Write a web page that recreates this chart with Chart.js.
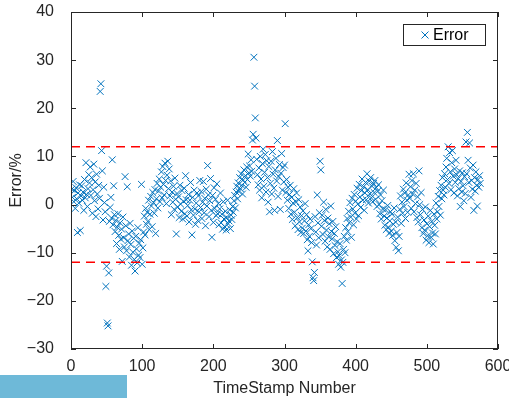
<!DOCTYPE html>
<html>
<head>
<meta charset="utf-8">
<script src="https://cdn.jsdelivr.net/npm/chart.js@4.4.0/dist/chart.umd.min.js"></script>
<style>
  html, body { margin: 0; padding: 0; background: #fff; }
  #wrap { position: relative; width: 509px; height: 398px; }
  #bar { position: absolute; left: 0; top: 375px; width: 127px; height: 23px; background: #6eb9d8; }
</style>
</head>
<body>
<div id="wrap">
  <canvas id="errChart" width="509" height="398"></canvas>
  <div id="bar"></div>
</div>
<script>
// 误差数据 (TimeStamp 1..575)
const errorValues = [
  3.2, 1.5, 4.8, 0.6, 2.9, -0.8, 3.5, 1.2, -5.8, 2.4, 0.3, 4.1, -5.4, 1.8, 3.9, 0.9, 2.6, -1.2, 5.2, 1.4, 8.7, 2.1, -0.4, 3.3, 6.2,
  4.5, 7.8, 1.9, 5.6, -1.8, 3.1, 8.4, 0.8, 4.7, -2.5, 6.3, 2.2, -0.9, 4.0, 1.3, 23.5, 25.1, 11.2, 7.0, -3.2, 3.6, 0.4, -1.5, -17.0, -12.8,
  -24.6, -25.2, -14.2, -3.5, -0.6, 1.5, -2.8, 9.3, -4.2, 3.9, -2.1, -5.6, -3.3, -8.1, -4.7, -1.9, -6.4, -9.3, -3.8, -7.2, -5.1, -11.8, -2.6, -6.9, -8.8,
  5.8, -4.4, -9.6, 3.7, -7.5, -6.1, -10.9, -3.9, -8.3, -12.6, -5.5, -9.9, -7.0, -11.4, -13.8, -6.6, -9.2, -12.1, -4.8, -10.5, -8.0, -11.0, -7.3, 4.2, -12.4,
  -9.0, -5.7, -2.4, -6.3, -0.8, -4.1, -1.6, -3.5, 0.9, -5.2, -2.0, 1.7, -0.3, -4.6, 2.5, 0.4, -1.8, 3.1, -6.0, 1.2, 4.4, -0.7, 2.8, 5.3, 0.6,
  3.6, 6.8, 1.4, 7.9, 4.2, 2.0, 8.6, 5.0, 0.2, 6.1, 9.0, 3.3, 7.4, 1.8, 4.9, -2.1, 2.6, 0.5, 3.8, -1.0, 5.5, 1.1, -6.1, 2.3, -0.5,
  1.6, -2.7, 4.0, 0.1, -1.4, 2.9, -3.0, 0.7, 3.4, -1.9, 6.0, 1.0, -2.4, -0.2, 2.1, -3.6, 0.9, 4.6, -1.1, -6.3, 1.5, -2.2, 3.0, -0.9, -4.1,
  0.3, 2.4, -3.3, 1.8, -1.5, 5.0, -0.6, 2.7, -2.9, 0.5, 4.8, -1.7, 1.3, -4.4, 3.2, -0.3, 8.1, 2.0, -2.5, 0.8, 5.4, -1.2, -6.8, 1.9, -3.7,
  3.5, -0.8, 1.1, -2.3, 4.3, -1.9, 0.2, -4.2, -0.9, 2.4, -3.8, -2.0, -5.1, 0.6, -3.0, -4.6, -1.4, -5.3, -2.7, 0.9, -4.0, -3.4, -1.1, -5.0, -2.2,
  -3.1, -0.4, -1.6, 0.8, 1.9, -0.7, 2.6, 3.8, 1.2, 4.5, 2.7, 5.6, 3.3, 6.4, 4.0, 2.2, 5.1, 7.2, 4.6, 6.0, 3.6, 7.8, 5.2, 10.5, 6.6,
  8.0, 5.9, 9.3, 6.9, 13.4, 14.6, 30.6, 24.6, 18.0, 13.8, 9.4, 6.2, 4.1, 7.6, 3.0, 10.0, 5.3, 1.4, 8.5, 11.5, 3.8, 6.7, 10.4, 2.6, 9.1,
  5.6, 0.5, 7.9, -1.5, 4.4, 9.0, 2.2, 11.0, 6.3, 3.4, -1.2, 7.2, 9.6, 4.9, 13.3, 1.7, 5.8, 8.3, -1.0, 6.5, 10.6, 3.0, 7.7, 4.7, 8.2,
  16.8, 2.5, 5.2, 0.9, 3.6, -0.8, 2.1, 4.0, -2.0, 1.5, -3.1, 0.3, 3.3, -1.6, -4.4, 0.6, 2.4, -2.7, -5.2, 1.0, -3.6, -0.5, -5.8, -2.3, -4.9,
  -1.3, -6.0, -3.4, 0.2, -5.5, -2.1, -7.3, -9.6, -4.2, -6.6, -3.0, -5.0, -7.9, -11.9, -15.2, -15.8, -14.1, -2.5, -5.7, -8.4, 2.0, -3.8, -6.9, -1.7, 9.0,
  7.2, -4.5, -2.2, -6.2, 0.5, -3.3, -7.6, -1.0, -5.3, -8.8, -2.8, -6.7, -4.0, -9.3, -0.3, -5.6, -7.1, -3.5, -10.2, -6.0, -8.5, -4.6, -11.0, -7.7, -9.8,
  -12.4, -10.6, -8.1, -13.0, -11.5, -16.4, -12.0, -9.3, -6.6, -10.0, -4.8, -7.4, -2.9, -5.6, -1.4, -3.8, 0.4, -2.6, -6.8, 1.3, -0.9, -4.2, 2.1, -1.8, 0.7,
  -3.0, 3.4, 0.1, -2.3, 4.2, 1.6, -0.6, 2.9, 5.3, 0.9, 3.7, -1.2, 2.4, 4.6, 1.0, 6.4, 3.1, 0.3, 4.9, 2.2, 5.6, 1.4, 3.8, 0.6, 4.4,
  2.5, 5.0, 1.1, 3.5, -0.4, 2.8, 4.1, 0.0, -1.9, 2.0, -3.0, 0.8, -0.9, 3.0, -2.4, -4.3, -1.1, -5.2, -2.8, -0.2, -4.7, -6.0, -3.4, -1.5, -5.5,
  -2.0, -6.4, -4.1, -0.7, -7.5, -3.6, -8.9, -5.8, -2.6, -9.6, -6.6, -1.0, 1.8, -3.9, 0.5, -1.8, 3.2, -0.4, 2.4, -2.9, 4.5, 0.9, -1.6, 2.0, 6.3,
  1.3, 3.7, -0.8, 5.0, 2.2, 6.4, -1.5, 3.0, 0.2, 4.4, -2.7, 1.6, -3.6, 7.0, 0.0, -2.1, 2.5, -4.8, -1.0, -6.0, -3.2, -5.3, -0.5, -7.4, -4.0,
  -6.5, -2.4, -7.9, -4.6, -1.2, -6.8, -3.5, -5.9, -8.2, -2.0, -4.3, -6.1, 0.3, -3.0, -1.5, 1.7, -0.4, 2.9, -2.2, 4.0, 1.2, 5.6, 3.0, 2.0, 6.4,
  3.6, 7.8, 9.6, 5.2, 12.0, 4.4, 10.8, 6.8, 3.1, 8.7, 11.2, 5.9, 2.4, 7.4, 4.6, 9.2, 6.2, 1.8, 5.4, 3.3, 7.0, -0.4, 4.8, 2.6, 6.6,
  3.9, 0.8, 5.8, 2.3, 13.0, 6.4, 15.0, 9.2, 4.6, 12.8, 7.6, 1.5, 5.0, 3.2, 8.2, -1.2, 5.6, 2.8, 6.8, 4.0, -0.3, 5.2, 3.6, 6.0, 4.4
];
const timestamps = errorValues.map((_, i) => i + 1);

// 阈值线
const thresholds = [12, -12];
const xRange = [0, 600];
const yRange = [-30, 40];

const blue = "#0072BD";
const axisColor = "#262626";
const fontFamily = "'Liberation Sans', Arial, sans-serif";

// 边框、内刻度、图例
const framePlugin = {
  id: "frame",
  afterDraw(chart) {
    const ctx = chart.ctx;
    const a = chart.chartArea;
    const xs = chart.scales.x;
    const ys = chart.scales.y;
    ctx.save();
    ctx.strokeStyle = axisColor;
    ctx.lineWidth = 1;
    ctx.strokeRect(a.left + 0.5, a.top + 0.5, a.right - a.left - 1, a.bottom - a.top - 1);
    const tl = 5;
    ctx.beginPath();
    xs.ticks.forEach((t) => {
      const px = Math.round(xs.getPixelForValue(t.value)) + 0.5;
      ctx.moveTo(px, a.bottom);
      ctx.lineTo(px, a.bottom - tl);
      ctx.moveTo(px, a.top);
      ctx.lineTo(px, a.top + tl);
    });
    ys.ticks.forEach((t) => {
      const py = Math.round(ys.getPixelForValue(t.value)) + 0.5;
      ctx.moveTo(a.left, py);
      ctx.lineTo(a.left + tl, py);
      ctx.moveTo(a.right, py);
      ctx.lineTo(a.right - tl, py);
    });
    ctx.stroke();

    // 图例
    const bx = 403, by = 24, bw = 82, bh = 21;
    ctx.fillStyle = "#fff";
    ctx.fillRect(bx, by, bw, bh);
    ctx.strokeStyle = axisColor;
    ctx.strokeRect(bx + 0.5, by + 0.5, bw, bh);
    const mx = bx + 22, my = by + bh / 2 + 0.5;
    ctx.strokeStyle = blue;
    ctx.beginPath();
    ctx.moveTo(mx - 3.5, my - 3.5);
    ctx.lineTo(mx + 3.5, my + 3.5);
    ctx.moveTo(mx - 3.5, my + 3.5);
    ctx.lineTo(mx + 3.5, my - 3.5);
    ctx.stroke();
    ctx.fillStyle = "#000";
    ctx.font = "16px " + fontFamily;
    ctx.textBaseline = "middle";
    ctx.textAlign = "left";
    ctx.fillText("Error", bx + 30, by + bh / 2 + 1);
    ctx.restore();
  },
};

const thresholdSets = thresholds.map((t) => ({
  type: "line",
  data: xRange.map((x) => ({ x: x, y: t })),
  borderColor: "#ff0000",
  borderWidth: 1.5,
  borderDash: [9, 6],
  pointRadius: 0,
  fill: false,
  order: 0,
}));

new Chart(document.getElementById("errChart").getContext("2d"), {
  type: "scatter",
  data: {
    datasets: [
      {
        label: "Error",
        data: timestamps.map((x, i) => ({ x: x, y: errorValues[i] })),
        pointStyle: "crossRot",
        pointRadius: 4.8,
        pointBorderWidth: 1,
        borderColor: blue,
        backgroundColor: blue,
        order: 1,
      },
      ...thresholdSets,
    ],
  },
  options: {
    responsive: false,
    animation: false,
    layout: { padding: { top: 12, right: 11, bottom: 0, left: 0 } },
    plugins: { legend: { display: false }, tooltip: { enabled: false } },
    scales: {
      x: {
        type: "linear",
        min: xRange[0],
        max: xRange[1],
        grid: { display: false },
        border: { display: false },
        ticks: {
          stepSize: 100,
          padding: 0,
          color: axisColor,
          font: { family: fontFamily, size: 16 },
          maxRotation: 0,
        },
        title: {
          display: true,
          text: "TimeStamp Number",
          color: axisColor,
          font: { family: fontFamily, size: 16 },
          padding: { top: 0, bottom: 0 },
        },
        afterFit(scale) {
          scale.height = 49;
          scale.paddingLeft = 0;
          scale.paddingRight = 0;
        },
      },
      y: {
        min: yRange[0],
        max: yRange[1],
        grid: { display: false },
        border: { display: false },
        ticks: {
          stepSize: 10,
          padding: 9,
          color: axisColor,
          font: { family: fontFamily, size: 16 },
          callback: (v) => String(v).replace("-", "\u2212"),
        },
        title: {
          display: true,
          text: "Error/%",
          color: axisColor,
          font: { family: fontFamily, size: 16 },
          padding: { top: 7, bottom: 0 },
        },
        afterFit(scale) {
          scale.width = 71;
          scale.paddingTop = 0;
          scale.paddingBottom = 0;
        },
      },
    },
  },
  plugins: [framePlugin],
});
</script>
</body>
</html>
